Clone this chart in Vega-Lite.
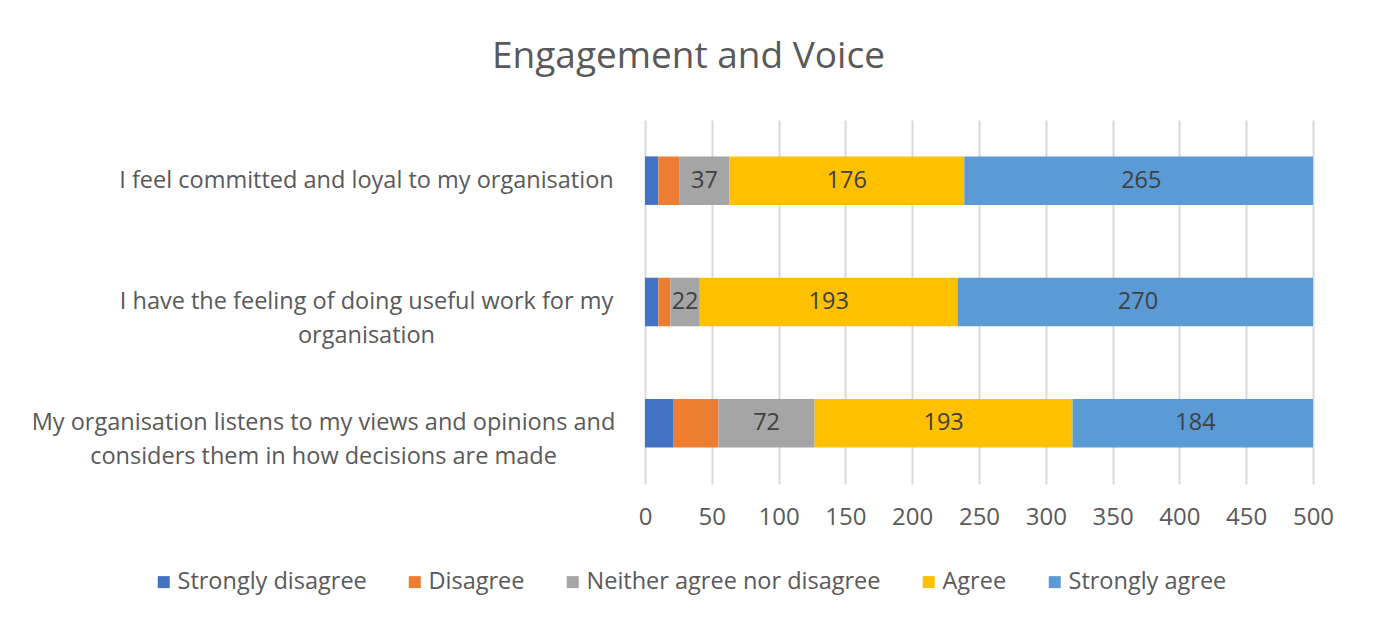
{
  "$schema": "https://vega.github.io/schema/vega-lite/v6.json",
  "autosize": "none",
  "width": 668,
  "height": 364,
  "padding": {"left": 645, "top": 120, "right": 60, "bottom": 137},
  "background": "white",
  "config": {
    "view": {"stroke": null},
    "font": "Open Sans"
  },
  "title": {
    "text": "Engagement and Voice",
    "font": "Open Sans",
    "fontSize": 37,
    "fontWeight": "normal",
    "color": "#595959",
    "anchor": "start",
    "frame": "group",
    "dx": -153,
    "offset": 44
  },
  "data": {
    "values": [
      {"q": "I feel committed and loyal to my organisation", "resp": "Strongly disagree", "k": 1, "value": 10},
      {"q": "I feel committed and loyal to my organisation", "resp": "Disagree", "k": 2, "value": 16},
      {"q": "I feel committed and loyal to my organisation", "resp": "Neither agree nor disagree", "k": 3, "value": 37},
      {"q": "I feel committed and loyal to my organisation", "resp": "Agree", "k": 4, "value": 176},
      {"q": "I feel committed and loyal to my organisation", "resp": "Strongly agree", "k": 5, "value": 265},
      {"q": "I have the feeling of doing useful work for my organisation", "resp": "Strongly disagree", "k": 1, "value": 10},
      {"q": "I have the feeling of doing useful work for my organisation", "resp": "Disagree", "k": 2, "value": 9},
      {"q": "I have the feeling of doing useful work for my organisation", "resp": "Neither agree nor disagree", "k": 3, "value": 22},
      {"q": "I have the feeling of doing useful work for my organisation", "resp": "Agree", "k": 4, "value": 193},
      {"q": "I have the feeling of doing useful work for my organisation", "resp": "Strongly agree", "k": 5, "value": 270},
      {"q": "My organisation listens to my views and opinions and considers them in how decisions are made", "resp": "Strongly disagree", "k": 1, "value": 21},
      {"q": "My organisation listens to my views and opinions and considers them in how decisions are made", "resp": "Disagree", "k": 2, "value": 34},
      {"q": "My organisation listens to my views and opinions and considers them in how decisions are made", "resp": "Neither agree nor disagree", "k": 3, "value": 72},
      {"q": "My organisation listens to my views and opinions and considers them in how decisions are made", "resp": "Agree", "k": 4, "value": 193},
      {"q": "My organisation listens to my views and opinions and considers them in how decisions are made", "resp": "Strongly agree", "k": 5, "value": 184}
    ]
  },
  "encoding": {
    "y": {
      "field": "q",
      "type": "nominal",
      "sort": null,
      "title": null,
      "scale": {"paddingInner": 0.6, "paddingOuter": 0.3},
      "axis": {
        "domain": false,
        "ticks": false,
        "labelFont": "Open Sans",
        "labelFontSize": 23.5,
        "labelColor": "#595959",
        "labelAlign": "center",
        "labelBaseline": "middle",
        "labelLimit": 700,
        "labelLineHeight": 34,
        "labelPadding": {"condition": {"test": "indexof(datum.value, 'My organisation') == 0", "value": 322}, "value": 279},
        "labelExpr": "datum.value == 'I have the feeling of doing useful work for my organisation' ? ['I have the feeling of doing useful work for my', 'organisation'] : (datum.value == 'My organisation listens to my views and opinions and considers them in how decisions are made' ? ['My organisation listens to my views and opinions and', 'considers them in how decisions are made'] : datum.value)"
      }
    },
    "x": {
      "field": "value",
      "type": "quantitative",
      "stack": "zero",
      "title": null,
      "scale": {"domain": [0, 500], "nice": false},
      "axis": {
        "values": [0, 50, 100, 150, 200, 250, 300, 350, 400, 450, 500],
        "domain": false,
        "ticks": false,
        "grid": true,
        "gridColor": "#d9d9d9",
        "gridWidth": 2,
        "labelFont": "Open Sans",
        "labelFontSize": 24,
        "labelColor": "#595959",
        "labelPadding": 21,
        "labelFlush": false
      }
    },
    "order": {"field": "k", "type": "quantitative"}
  },
  "layer": [
    {
      "mark": {"type": "bar", "clip": true},
      "encoding": {
        "color": {
          "field": "resp",
          "type": "nominal",
          "sort": ["Strongly disagree", "Disagree", "Neither agree nor disagree", "Agree", "Strongly agree"],
          "scale": {
            "domain": ["Strongly disagree", "Disagree", "Neither agree nor disagree", "Agree", "Strongly agree"],
            "range": ["#4472C4", "#ED7D31", "#A5A5A5", "#FFC000", "#5B9BD5"]
          },
          "legend": {
            "title": null,
            "orient": "none",
            "direction": "horizontal",
            "legendX": -493,
            "legendY": 450,
            "padding": 0,
            "symbolType": "square",
            "symbolSize": 144,
            "symbolStrokeWidth": 0,
            "labelFont": "Open Sans",
            "labelFontSize": 23.5,
            "labelColor": "#595959",
            "labelOffset": 2,
            "columnPadding": 36,
            "labelLimit": 400
          }
        }
      }
    },
    {
      "mark": {"type": "text", "font": "Open Sans", "fontSize": 23.5, "color": "#404040", "baseline": "middle", "align": "center"},
      "encoding": {
        "x": {
          "field": "value",
          "type": "quantitative",
          "stack": "zero",
          "bandPosition": 0.5
        },
        "text": {
          "condition": {"test": "datum.k <= 2", "value": ""},
          "field": "value",
          "type": "quantitative"
        }
      }
    }
  ]
}
